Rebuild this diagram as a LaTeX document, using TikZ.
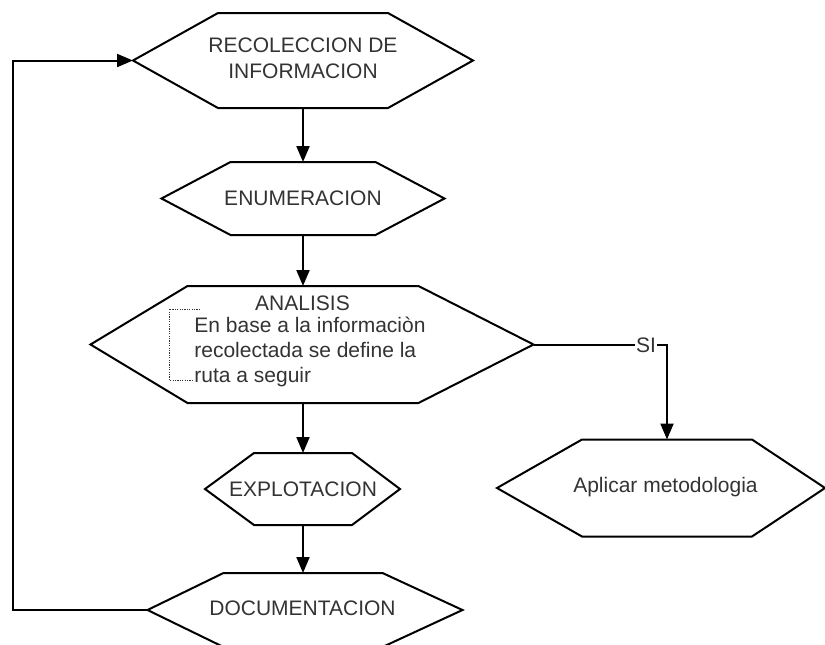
\documentclass[tikz,border=0pt]{standalone}
\usepackage{fontspec}
\setmainfont{Liberation Sans}
\usetikzlibrary{arrows.meta,calc}

\definecolor{txt}{RGB}{51,51,51}

% outline of a flat-topped hexagon around a box node; #2/#3 are the
% horizontal runs to the left and right points, which are saved as
% the coordinates (#1-l) and (#1-r)
\newcommand{\hexoutline}[3]{%
  \draw[hexline] (#1.north west) -- (#1.north east)
    -- ($(#1.east)+(#3,0)$) coordinate (#1-r)
    -- (#1.south east) -- (#1.south west)
    -- ($(#1.west)+(-#2,0)$) coordinate (#1-l) -- cycle;}

\begin{document}
\begin{tikzpicture}[x=0.5pt,y=-0.5pt,
  hexline/.style={draw=black, line width=1pt, line join=miter},
  box/.style={draw=none, inner sep=0pt, outer sep=0pt},
  lbl/.style={inner sep=0pt, text=txt, font=\fontsize{10.5pt}{13pt}\selectfont, align=center},
  conn/.style={draw=black, line width=1pt, -{Triangle[length=8pt,width=6.5pt]}},
  plainconn/.style={draw=black, line width=1pt},
  note/.style={draw=black!80, line width=0.5pt, dash pattern=on 0.6pt off 0.6pt}]

\useasboundingbox (0,0) rectangle (825,644);

% process boxes (the flat top edge of each hexagon)
\node[box, minimum width=85pt,   minimum height=47.5pt] (rec)  at (303,60.5)  {};
\node[box, minimum width=72.5pt, minimum height=36.5pt] (enum) at (303,198.5) {};
\node[box, minimum width=115.5pt,minimum height=58.5pt] (ana)  at (303,344.5) {};
\node[box, minimum width=49pt,   minimum height=36pt]   (expl) at (303,489)   {};
\node[box, minimum width=79.5pt, minimum height=37pt]   (doc)  at (303,610)   {};
\node[box, minimum width=85pt,   minimum height=48.5pt] (apl)  at (667,488)   {};

\hexoutline{rec}{85}{85}
\hexoutline{enum}{69}{69}
\hexoutline{ana}{97}{115}
\hexoutline{expl}{49}{48}
\hexoutline{doc}{76}{80}
\hexoutline{apl}{85}{73}

% step names
\node[lbl] (rect)  at (303,58)    {RECOLECCION DE\\INFORMACION};
\node[lbl] (enumt) at (303,198.5) {ENUMERACION};
\node[lbl] (explt) at (303,489)   {EXPLOTACION};
\node[lbl] (doct)  at (302.5,608) {DOCUMENTACION};
\node[lbl] (aplt)  at (665.5,487) {Aplicar metodologia};

% contents of the analysis step
\node[lbl] (anat) at (302.5,303) {ANALISIS};
\node[lbl, anchor=west, align=left, font=\fontsize{10.5pt}{12.5pt}\selectfont] (anad) at (194,352)
  {En base a la informaciòn\\recolectada se define la\\ruta a seguir};

% annotation bracket beside the description
\coordinate (nt1) at (200,309);
\coordinate (nt2) at (169,309);
\coordinate (nt3) at (169,380);
\coordinate (nt4) at (193,380);
\draw[note] (nt1) -- (nt2) -- (nt3) -- (nt4);

% main flow
\draw[conn] (rec.south)  -- (enum.north);
\draw[conn] (enum.south) -- (ana.north);
\draw[conn] (ana.south)  -- (expl.north);
\draw[conn] (expl.south) -- (doc.north);

% branch to the methodology
\node[lbl, fill=white, inner sep=0.5pt] (si) at (646,345) {SI};
\draw[plainconn] (ana-r) -- (ana-r -| si.west);
\draw[conn] (si.east) -| (apl.north);

% return loop back to the start
\coordinate (loopx) at (13,610);
\draw[conn] (doc-l) -- (loopx) |- (rec-l);

\end{tikzpicture}
\end{document}
